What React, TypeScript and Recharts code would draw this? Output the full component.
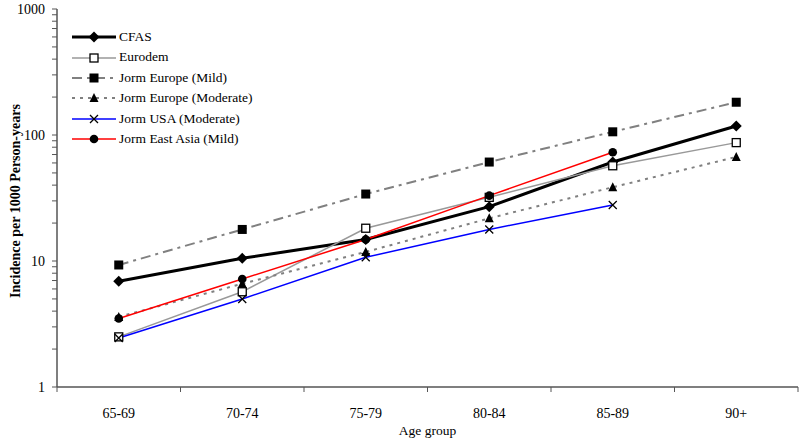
import React from 'react';
import { LineChart, Line, XAxis, YAxis } from 'recharts';

const categories = ['65-69', '70-74', '75-79', '80-84', '85-89', '90+'];
const cfas = [6.9, 10.5, 14.8, 27, 61, 118];
const eurodem = [2.5, 5.7, 18.2, 32, 57, 87];
const jormEuropeMild = [9.3, 17.8, 34, 61, 106, 182];
const jormEuropeModerate = [3.6, 6.6, 11.8, 21.8, 38.5, 67];
const jormUSAModerate = [2.45, 5.0, 10.7, 17.8, 27.8, null];
const jormEastAsiaMild = [3.5, 7.2, 14.8, 33, 73, null];
const yTicks = [1, 2, 3, 4, 5, 6, 7, 8, 9, 10, 20, 30, 40, 50, 60, 70, 80, 90, 100, 200, 300, 400, 500, 600, 700, 800, 900, 1000];
const yLabels = [1, 10, 100, 1000];
const xTicks = [0, 1, 2, 3, 4, 5, 6];

const data = categories.map((c, i) => ({
  x: i + 0.5,
  cat: c,
  cfas: cfas[i],
  eurodem: eurodem[i],
  jormEuropeMild: jormEuropeMild[i],
  jormEuropeModerate: jormEuropeModerate[i],
  jormUSAModerate: jormUSAModerate[i],
  jormEastAsiaMild: jormEastAsiaMild[i],
}));

const W = 800;
const H = 438;
const M = { top: 9, right: 2, left: 0, bottom: 22 };
const Y_W = 57;
const FONT = 'Liberation Serif, Times New Roman, Times, serif';
const AXIS = '#555';
const TXT = { fontFamily: FONT, fontSize: 14, fill: '#000' };

type Shape = 'diamond' | 'openSquare' | 'square' | 'triangle' | 'cross' | 'circle';

const Marker = ({ cx, cy, shape }: { cx: number; cy: number; shape: Shape }) => {
  if (cx == null || cy == null || isNaN(cx) || isNaN(cy)) return null;
  switch (shape) {
    case 'diamond':
      return <path d={`M${cx},${cy - 5.5} L${cx + 5.5},${cy} L${cx},${cy + 5.5} L${cx - 5.5},${cy} Z`} fill="#000" />;
    case 'openSquare':
      return <rect x={cx - 4} y={cy - 4} width={8} height={8} fill="#fff" stroke="#000" strokeWidth={1.3} />;
    case 'square':
      return <rect x={cx - 4.5} y={cy - 4.5} width={9} height={9} fill="#000" />;
    case 'triangle':
      return <path d={`M${cx},${cy - 5} L${cx + 4.5},${cy + 4} L${cx - 4.5},${cy + 4} Z`} fill="#000" />;
    case 'cross':
      return (
        <path d={`M${cx - 4},${cy - 4} L${cx + 4},${cy + 4} M${cx + 4},${cy - 4} L${cx - 4},${cy + 4}`} stroke="#000" strokeWidth={1.3} fill="none" />
      );
    case 'circle':
      return <circle cx={cx} cy={cy} r={4.3} fill="#000" />;
  }
  return null;
};

const series: { key: string; name: string; color: string; width: number; dash?: string; shape: Shape }[] = [
  { key: 'cfas', name: 'CFAS', color: '#000', width: 3, shape: 'diamond' },
  { key: 'eurodem', name: 'Eurodem', color: '#999', width: 1.5, shape: 'openSquare' },
  { key: 'jormEuropeMild', name: 'Jorm Europe (Mild)', color: '#808080', width: 2, dash: '10 5 3 5', shape: 'square' },
  { key: 'jormEuropeModerate', name: 'Jorm Europe (Moderate)', color: '#808080', width: 2, dash: '3 5', shape: 'triangle' },
  { key: 'jormUSAModerate', name: 'Jorm USA (Moderate)', color: '#0000ff', width: 1.5, shape: 'cross' },
  { key: 'jormEastAsiaMild', name: 'Jorm East Asia (Mild)', color: '#ff0000', width: 1.5, shape: 'circle' },
];

const LegendBox = () => (
  <div style={{ position: 'absolute', left: 72, top: 27, fontFamily: FONT, fontSize: 13.5, color: '#000', lineHeight: '20.4px' }}>
    {series.map((s) => (
      <div key={s.key} style={{ display: 'flex', alignItems: 'center', height: 20.4 }}>
        <svg width={46} height={20} style={{ display: 'block' }}>
          <line x1={0} y1={10} x2={44} y2={10} stroke={s.color} strokeWidth={s.width} strokeDasharray={s.dash} />
          <Marker cx={22} cy={10} shape={s.shape} />
        </svg>
        <span style={{ marginLeft: 1, fontFamily: FONT }}>{s.name}</span>
      </div>
    ))}
  </div>
);

const YTick = (props: any) => {
  const { x, y, payload } = props;
  if (!yLabels.includes(payload.value)) return null;
  return (
    <text x={x - 5} y={y} dy={5} textAnchor="end" style={TXT}>
      {payload.value}
    </text>
  );
};

const halfBand = (W - Y_W - M.right) / categories.length / 2;

const XTick = (props: any) => {
  const { x, y, payload } = props;
  const i = payload.value;
  if (i >= categories.length) return null;
  return (
    <text x={x + halfBand} y={y} dy={24} textAnchor="middle" style={TXT}>
      {categories[i]}
    </text>
  );
};

const XLabel = (props: any) => {
  const { viewBox } = props;
  return (
    <text x={viewBox.x + viewBox.width / 2} y={viewBox.y + 48} textAnchor="middle" style={{ ...TXT, fontSize: 13.5 }}>
      Age group
    </text>
  );
};

const YLabel = (props: any) => {
  const { viewBox } = props;
  const cx = 20;
  const cy = viewBox.y + viewBox.height / 2 + 3;
  return (
    <text x={cx} y={cy} transform={`rotate(-90, ${cx}, ${cy})`} textAnchor="middle" style={{ ...TXT, fontWeight: 'bold' }}>
      Incidence per 1000 Person-years
    </text>
  );
};

export default function App() {
  return (
    <div style={{ position: 'fixed', left: 0, top: 0, width: W, height: H, background: '#fff' }}>
      <LineChart width={W} height={H} data={data} margin={M} style={{ fontFamily: FONT }}>
        <XAxis
          type="number"
          dataKey="x"
          domain={[0, 6]}
          ticks={xTicks}
          interval={0}
          tick={<XTick />}
          tickLine={{ stroke: AXIS }}
          axisLine={{ stroke: AXIS, strokeWidth: 1.5 }}
          tickSize={5}
          height={29}
          label={<XLabel />}
        />
        <YAxis
          type="number"
          scale="log"
          domain={[1, 1000]}
          ticks={yTicks}
          interval={0}
          allowDataOverflow
          width={Y_W}
          tick={<YTick />}
          tickLine={{ stroke: AXIS }}
          axisLine={{ stroke: AXIS, strokeWidth: 1.5 }}
          tickSize={5}
          label={<YLabel />}
        />
        {series.map((s) => (
          <Line
            key={s.key}
            type="linear"
            dataKey={s.key}
            name={s.name}
            stroke={s.color}
            strokeWidth={s.width}
            strokeDasharray={s.dash}
            isAnimationActive={false}
            dot={(p: any) => <Marker key={`${s.key}-${p.index}`} cx={p.cx} cy={p.cy} shape={s.shape} />}
            activeDot={false}
          />
        ))}
      </LineChart>
      <LegendBox />
    </div>
  );
}
